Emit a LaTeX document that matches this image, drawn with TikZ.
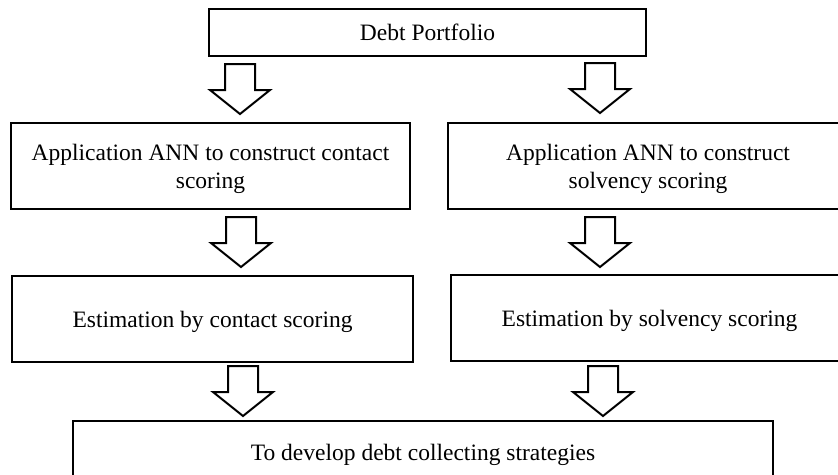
\documentclass[tikz,border=0pt]{standalone}
\usepackage{fontspec}
\setmainfont{Liberation Serif}
\tikzset{
  x=1pt, y=-1pt,
  box/.style={draw=black, line width=2pt, fill=white, inner sep=0pt, align=center,
    text depth=0pt, font=\fontsize{23.5}{28}\selectfont, text=black},
  arrowline/.style={draw=black, line width=2pt, fill=white, line join=miter},
  downarrow/.pic={\path[arrowline] (-15,0) -- (15,0) -- (15,26) -- (30,26) -- (0,50) -- (-30,26) -- (-15,26) -- cycle;}
}
\begin{document}
\begin{tikzpicture}
\clip (0,0) rectangle (838,474);
\fill[white] (0,0) rectangle (838,474);
\node[box, minimum width=437pt, minimum height=47pt] (top) at (427.5,32.5) {Debt Portfolio};
\node[box, minimum width=399pt, minimum height=86pt] (annl) at (210.5,166) {Application ANN to construct contact\\scoring};
\node[box, minimum width=400pt, minimum height=86pt] (annr) at (648,166) {Application ANN to construct\\solvency scoring};
\node[box, minimum width=401pt, minimum height=86pt] (estl) at (212.5,319) {Estimation by contact scoring};
\node[box, minimum width=397pt, minimum height=86pt] (estr) at (649.5,318) {Estimation by solvency scoring};
\node[box, minimum width=700pt, minimum height=62pt] (dev) at (423,452) {To develop debt collecting strategies};
\pic at (240,64) {downarrow};
\pic at (600,63) {downarrow};
\pic at (241,217) {downarrow};
\pic at (600,217) {downarrow};
\pic at (243,366) {downarrow};
\pic at (603,366) {downarrow};
\end{tikzpicture}
\end{document}
